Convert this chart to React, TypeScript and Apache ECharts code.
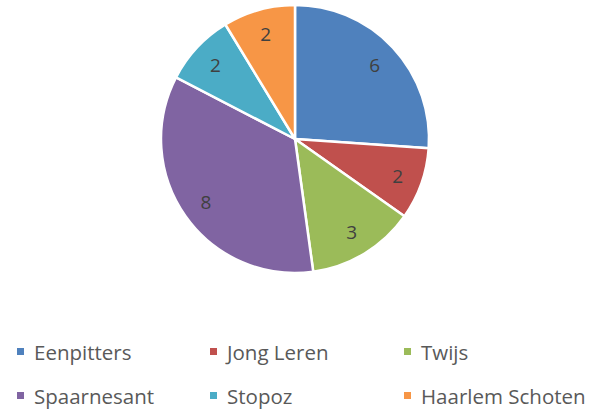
import React, { useEffect, useRef } from "react";
import * as echarts from "echarts";

const categories = ["Eenpitters", "Jong Leren", "Twijs", "Spaarnesant", "Stopoz", "Haarlem Schoten"];
const values = [6, 2, 3, 8, 2, 2];
const colors = ["#4F81BD", "#C0504D", "#9BBB59", "#8064A2", "#4BACC6", "#F79646"];

const legendCols = [15, 208, 402];
const legendRows = [341, 385];

export default function App() {
  const ref = useRef<HTMLDivElement>(null);
  useEffect(() => {
    if (!ref.current) return;
    const chart = echarts.init(ref.current, undefined, { renderer: "svg" });
    const data = categories.map((name, i) => ({
      name,
      value: values[i],
      itemStyle: { color: colors[i] },
    }));
    const legends = categories.map((name, i) => ({
      data: [name],
      left: legendCols[i % 3],
      top: legendRows[Math.floor(i / 3)],
      icon: "rect",
      itemWidth: 9,
      itemHeight: 9,
      itemGap: 0,
      selectedMode: false,
      textStyle: {
        color: "#595959",
        fontSize: 20.5,
        lineHeight: 20,
        fontFamily: "Open Sans",
        padding: [0, 0, 0, 4],
      },
      padding: 0,
    }));
    chart.setOption({
      animation: false,
      backgroundColor: "#ffffff",
      color: colors,
      legend: legends,
      series: [
        {
          type: "pie",
          center: [295, 139],
          radius: [0, 134],
          startAngle: 90,
          clockwise: true,
          data,
          label: { show: false },
          labelLine: { show: false },
          itemStyle: { borderColor: "#ffffff", borderWidth: 2.5 },
          silent: true,
        },
        {
          type: "pie",
          center: [295, 139],
          radius: [78, 134],
          startAngle: 90,
          clockwise: true,
          data: categories.map((name, i) => ({ name, value: values[i] })),
          itemStyle: { color: "rgba(0,0,0,0)" },
          label: {
            show: true,
            position: "inside",
            formatter: "{c}",
            color: "#404040",
            fontSize: 19,
            fontFamily: "Open Sans",
          },
          labelLine: { show: false },
          silent: true,
        },
      ],
    });
    return () => chart.dispose();
  }, []);
  return <div ref={ref} style={{ position: "fixed", left: 0, top: 0, width: 592, height: 413 }} />;
}
